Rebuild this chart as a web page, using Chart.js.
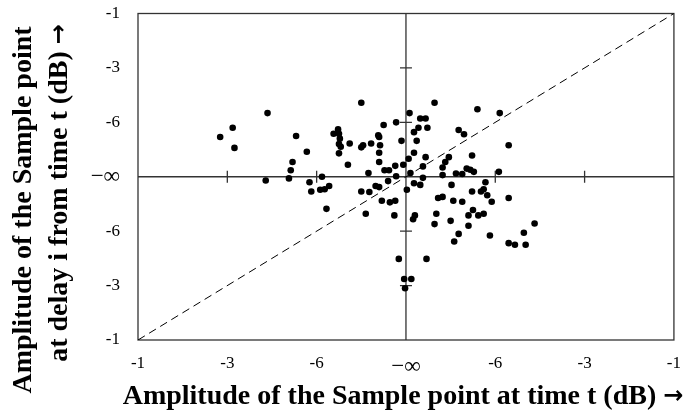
<!DOCTYPE html>
<html>
<head>
<meta charset="utf-8">
<script src="https://cdn.jsdelivr.net/npm/chart.js@4"></script>
<style>
  html, body { margin: 0; padding: 0; background: #fff; }
  #wrap { width: 694px; height: 419px; position: relative; }
</style>
</head>
<body>
<div id="wrap"><canvas id="scatter"></canvas></div>
<script>
// tick labels, position -3..3 on each axis
const axisLabels = ['-1', '-3', '-6', '\u2212\u221E', '-6', '-3', '-1'];

// sample points (axis units, -3..3)
const pointX = [
  -2.08, -1.94, -1.92, -1.55, -1.23, -1.11, -1.27, -1.29, -1.31, -1.57,
  -1.08, -1.06, -0.94, -0.96, -0.91, -0.86, -0.89, -0.81, -0.76, -0.75,
  -0.74, -0.75, -0.73, -0.75, -0.63, -0.65, -0.50, -0.50, -0.48, -0.39,
  -0.31, -0.30, -0.29, -0.30, -0.30, -0.25, -0.11, -0.05, -0.42, -0.24,
  -0.19, -0.12, -0.03, -0.11, -0.20, -0.50, -0.41, -0.34, -0.30, -0.27,
  -0.18, -0.12, -0.45, -0.13,
  0.04, 0.16, 0.22, 0.09, 0.14, 0.24, 0.12, 0.09, 0.03, 0.22,
  0.19, 0.05, 0.19, 0.09, 0.16, 0.01, 0.08, 0.10, -0.08, 0.23,
  -0.02, 0.06, -0.01, 0.32, 0.80, 1.05, 0.59, 0.65, 1.15, 0.74,
  0.48, 0.44, 0.41, 0.68, 0.72, 0.76, 0.56, 0.63, 0.41, 1.04,
  0.51, 0.89, 0.36, 0.41, 0.53, 0.63, 0.74, 0.84, 0.87, 0.91,
  0.96, 1.15, 0.34, 0.32, 0.50, 0.75, 0.70, 0.81, 0.87, 0.70,
  0.59, 0.54, 0.94, 1.44, 1.32, 1.15, 1.22, 1.34
];
const pointY = [
  0.73, 0.90, 0.53, 1.17, 0.75, 0.46, 0.27, 0.12, -0.03, -0.07,
  -0.10, -0.27, 0.00, -0.24, -0.23, -0.17, -0.59, 0.79, 0.87, 0.79,
  0.70, 0.60, 0.55, 0.43, 0.61, 0.22, 1.36, 0.54, 0.58, 0.61,
  0.76, 0.73, 0.58, 0.44, 0.27, 0.95, 1.00, 0.66, 0.07, 0.12,
  0.12, 0.20, 0.22, 0.01, -0.08, -0.27, -0.28, -0.17, -0.19, -0.44,
  -0.47, -0.44, -0.68, -0.71,
  1.17, 1.07, 1.07, 0.82, 0.90, 0.90, 0.66, 0.44, 0.33, 0.36,
  0.19, 0.07, -0.02, -0.12, -0.15, -0.24, -0.78, -0.71, -1.51, -1.51,
  -1.88, -1.88, -2.05, 1.36, 1.24, 1.17, 0.86, 0.78, 0.58, 0.39,
  0.36, 0.27, 0.17, 0.15, 0.13, 0.09, 0.06, 0.05, 0.03, 0.09,
  -0.15, -0.10, -0.39, -0.37, -0.44, -0.46, -0.27, -0.27, -0.23, -0.34,
  -0.46, -0.39, -0.68, -0.87, -0.81, -0.61, -0.71, -0.71, -0.68, -0.90,
  -1.05, -1.19, -1.08, -0.86, -1.03, -1.22, -1.25, -1.25
];

// dashed reference diagonal
const diagX = [-3, 3];
const diagY = [-3, 3];

const xTitle = 'Amplitude of the Sample point at time t (dB)';
const yTitle = ['Amplitude of the Sample point', 'at delay i from time t (dB)'];

const serif = '"Liberation Serif", "Times New Roman", serif';
const titleFont = 'bold 28px ' + serif;
const arrowFont = 'bold 24px "DejaVu Sans"';

// title text followed by an arrow, centred on (0,0) of the current transform
function drawTitle(ctx, text, withArrow) {
  ctx.font = titleFont;
  const tw = ctx.measureText(text + ' ').width;
  const sp = ctx.measureText(' ').width;
  ctx.font = arrowFont;
  const aw = withArrow ? ctx.measureText('\u2192').width : -sp;
  const start = -(tw + aw) / 2;
  ctx.textAlign = 'left';
  ctx.textBaseline = 'middle';
  ctx.font = titleFont;
  ctx.fillText(text, start, 0);
  if (withArrow) {
    ctx.font = arrowFont;
    ctx.fillText('\u2192', start + tw, 0);
  }
}

// box, centre cross with small ticks, and the axis titles
const framePlugin = {
  id: 'frame',
  beforeDatasetsDraw(chart) {
    const {ctx, chartArea: a, scales: {x, y}} = chart;
    const cx = x.getPixelForValue(0);
    const cy = y.getPixelForValue(0);
    ctx.save();
    ctx.strokeStyle = '#333';
    ctx.lineWidth = 1.3;
    ctx.strokeRect(a.left, a.top, a.right - a.left, a.bottom - a.top);
    ctx.beginPath();
    ctx.moveTo(cx, a.top); ctx.lineTo(cx, a.bottom);
    ctx.moveTo(a.left, cy); ctx.lineTo(a.right, cy);
    [-2, -1, 1, 2].forEach(v => {
      const px = x.getPixelForValue(v);
      const py = y.getPixelForValue(v);
      ctx.moveTo(px, cy - 6); ctx.lineTo(px, cy + 6);
      ctx.moveTo(cx - 6, py); ctx.lineTo(cx + 6, py);
    });
    ctx.stroke();
    ctx.restore();
  },
  afterDraw(chart) {
    const {ctx} = chart;
    ctx.save();
    ctx.fillStyle = '#000';
    ctx.save();
    ctx.translate(403, 397);
    drawTitle(ctx, xTitle, true);
    ctx.restore();
    [[24, 210, false], [60, 193, true]].forEach(([tx, ty, arrow], i) => {
      ctx.save();
      ctx.translate(tx, ty);
      ctx.rotate(-Math.PI / 2);
      drawTitle(ctx, yTitle[i], arrow);
      ctx.restore();
    });
    ctx.restore();
  }
};

const tickFont = c => ({
  family: serif,
  size: c.tick && c.tick.value === 0 ? 23 : 17
});

const scatterCtx = document.getElementById('scatter');

new Chart(scatterCtx, {
  type: 'scatter',
  data: {
    datasets: [
      {
        label: 'samples',
        data: pointX.map((v, i) => ({x: v, y: pointY[i]})),
        backgroundColor: '#000',
        borderColor: '#000',
        pointRadius: 3.3,
        pointBorderWidth: 0
      },
      {
        type: 'line',
        label: 'diagonal',
        data: diagX.map((v, i) => ({x: v, y: diagY[i]})),
        borderColor: '#000',
        borderWidth: 1,
        borderDash: [8, 5],
        pointRadius: 0,
        fill: false
      }
    ]
  },
  options: {
    responsive: true,
    maintainAspectRatio: false,
    devicePixelRatio: 1,
    animation: false,
    layout: { padding: { top: 0, right: 17, left: 0, bottom: 0 } },
    plugins: {
      legend: { display: false },
      tooltip: { enabled: false }
    },
    scales: {
      x: {
        type: 'linear',
        min: -3,
        max: 3,
        grid: { display: false, drawTicks: false },
        border: { display: false },
        ticks: {
          stepSize: 1,
          autoSkip: false,
          maxRotation: 0,
          padding: 13,
          color: '#000',
          font: tickFont,
          callback: v => axisLabels[Math.round(v) + 3]
        },
        afterFit: s => { s.height = 79; }
      },
      y: {
        type: 'linear',
        min: -3,
        max: 3,
        grid: { display: false, drawTicks: false },
        border: { display: false },
        ticks: {
          stepSize: 1,
          autoSkip: false,
          padding: 18,
          color: '#000',
          font: tickFont,
          callback: v => axisLabels[Math.round(v) + 3]
        },
        afterFit: s => {
          s.width = 138;
          s.paddingTop = 13.5;
          s.paddingBottom = 0;
        }
      }
    }
  },
  plugins: [framePlugin]
});
</script>
</body>
</html>
